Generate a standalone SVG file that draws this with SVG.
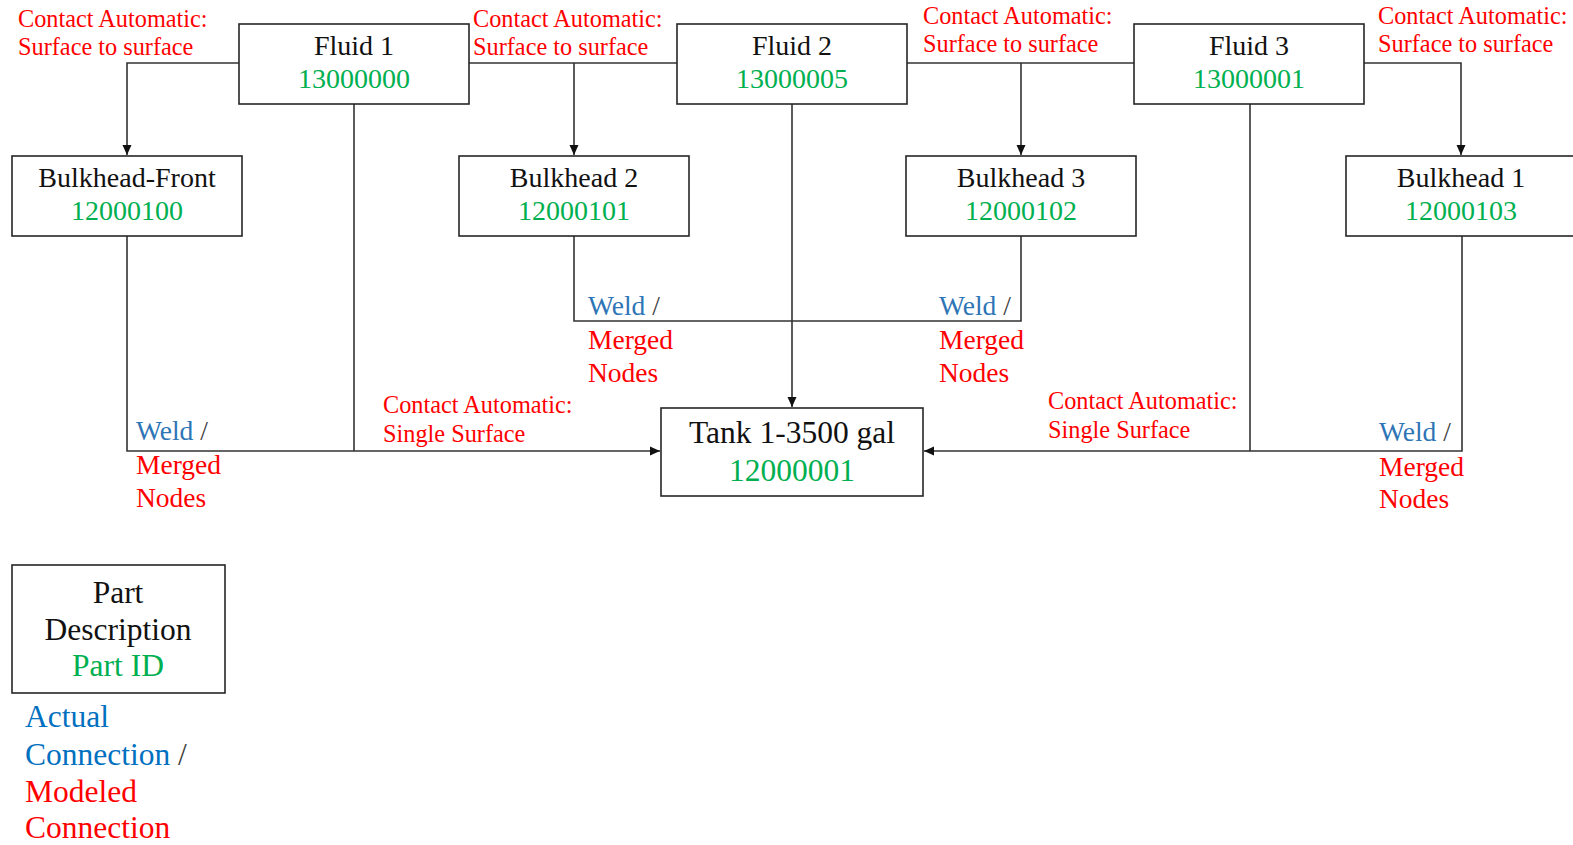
<svg xmlns="http://www.w3.org/2000/svg" width="1573" height="845" viewBox="0 0 1573 845">
<style>
  .box { fill: #fff; stroke: #262626; stroke-width: 1.6; }
  .ln { fill: none; stroke: #333; stroke-width: 1.6; }
  .t { font-family: "Liberation Serif", "Times New Roman", serif; }
  .nm { font-size: 28px; fill: #111; text-anchor: middle; }
  .id { font-size: 28px; fill: #00B050; text-anchor: middle; }
  .lab { font-size: 24.3px; fill: #FF0000; }
  .wl { font-size: 27.5px; }
  .blue { fill: #2E75B6; }
  .red { fill: #FF0000; }
  .sl { fill: #404040; }
</style>
<defs>
  <marker id="arr" markerWidth="12" markerHeight="12" refX="10" refY="5.5" orient="auto" markerUnits="userSpaceOnUse">
    <path d="M0,1 L10,5.5 L0,10 Z" fill="#111"/>
  </marker>
</defs>
<g id="connectors">
  <path class="ln" d="M239,63 H127 V155" marker-end="url(#arr)"/>
  <path class="ln" d="M469,63 H677"/>
  <path class="ln" d="M574,63 V155" marker-end="url(#arr)"/>
  <path class="ln" d="M907,63 H1134"/>
  <path class="ln" d="M1021,63 V155" marker-end="url(#arr)"/>
  <path class="ln" d="M1364,63 H1461 V155" marker-end="url(#arr)"/>
  <path class="ln" d="M127,236 V451 H660" marker-end="url(#arr)"/>
  <path class="ln" d="M354,104 V451"/>
  <path class="ln" d="M574,236 V321 H1021 V236"/>
  <path class="ln" d="M792,104 V407" marker-end="url(#arr)"/>
  <path class="ln" d="M1462,236 V451 H924" marker-end="url(#arr)"/>
  <path class="ln" d="M1250,104 V451"/>
</g>
<g id="labels" class="t">
  <text class="lab" x="18" y="27">Contact Automatic:</text>
  <text class="lab" x="18" y="55">Surface to surface</text>
  <text class="lab" x="473" y="27">Contact Automatic:</text>
  <text class="lab" x="473" y="55">Surface to surface</text>
  <text class="lab" x="923" y="24">Contact Automatic:</text>
  <text class="lab" x="923" y="52">Surface to surface</text>
  <text class="lab" x="1378" y="24">Contact Automatic:</text>
  <text class="lab" x="1378" y="52">Surface to surface</text>
  <text class="lab" x="383" y="413">Contact Automatic:</text>
  <text class="lab" x="383" y="442">Single Surface</text>
  <text class="lab" x="1048" y="409">Contact Automatic:</text>
  <text class="lab" x="1048" y="438">Single Surface</text>
  <text class="wl" x="136" y="440"><tspan class="blue">Weld</tspan><tspan class="sl"> /</tspan></text>
  <text class="wl red" x="136" y="474">Merged</text>
  <text class="wl red" x="136" y="507">Nodes</text>
  <text class="wl" x="588" y="315"><tspan class="blue">Weld</tspan><tspan class="sl"> /</tspan></text>
  <text class="wl red" x="588" y="349">Merged</text>
  <text class="wl red" x="588" y="382">Nodes</text>
  <text class="wl" x="939" y="315"><tspan class="blue">Weld</tspan><tspan class="sl"> /</tspan></text>
  <text class="wl red" x="939" y="349">Merged</text>
  <text class="wl red" x="939" y="382">Nodes</text>
  <text class="wl" x="1379" y="441"><tspan class="blue">Weld</tspan><tspan class="sl"> /</tspan></text>
  <text class="wl red" x="1379" y="476">Merged</text>
  <text class="wl red" x="1379" y="508">Nodes</text>
</g>
<g id="fluid1" class="t">
  <rect class="box" x="239" y="24" width="230" height="80"/>
  <text class="nm" x="354" y="55">Fluid 1</text>
  <text class="id" x="354" y="88">13000000</text>
</g>
<g id="fluid2" class="t">
  <rect class="box" x="677" y="24" width="230" height="80"/>
  <text class="nm" x="792" y="55">Fluid 2</text>
  <text class="id" x="792" y="88">13000005</text>
</g>
<g id="fluid3" class="t">
  <rect class="box" x="1134" y="24" width="230" height="80"/>
  <text class="nm" x="1249" y="55">Fluid 3</text>
  <text class="id" x="1249" y="88">13000001</text>
</g>
<g id="bulkhead-front" class="t">
  <rect class="box" x="12" y="156" width="230" height="80"/>
  <text class="nm" x="127" y="187">Bulkhead-Front</text>
  <text class="id" x="127" y="220">12000100</text>
</g>
<g id="bulkhead2" class="t">
  <rect class="box" x="459" y="156" width="230" height="80"/>
  <text class="nm" x="574" y="187">Bulkhead 2</text>
  <text class="id" x="574" y="220">12000101</text>
</g>
<g id="bulkhead3" class="t">
  <rect class="box" x="906" y="156" width="230" height="80"/>
  <text class="nm" x="1021" y="187">Bulkhead 3</text>
  <text class="id" x="1021" y="220">12000102</text>
</g>
<g id="bulkhead1" class="t">
  <rect class="box" x="1346" y="156" width="232" height="80"/>
  <text class="nm" x="1461" y="187">Bulkhead 1</text>
  <text class="id" x="1461" y="220">12000103</text>
</g>
<g id="tank" class="t">
  <rect class="box" x="661" y="408" width="262" height="88"/>
  <text class="nm" x="792" y="443" style="font-size:31.5px">Tank 1-3500 gal</text>
  <text class="id" x="792" y="481" style="font-size:31.5px">12000001</text>
</g>
<g id="legend" class="t">
  <rect class="box" x="12" y="565" width="213" height="128"/>
  <text class="nm" x="118" y="603" style="font-size:31.5px">Part</text>
  <text class="nm" x="118" y="640" style="font-size:31.5px">Description</text>
  <text class="id" x="118" y="676" style="font-size:31.5px">Part ID</text>
  <text x="25" y="727" style="font-size:31.5px;fill:#0070C0">Actual</text>
  <text x="25" y="765" style="font-size:31.5px"><tspan fill="#0070C0">Connection</tspan><tspan fill="#404040"> /</tspan></text>
  <text x="25" y="802" style="font-size:31.5px;fill:#FF0000">Modeled</text>
  <text x="25" y="838" style="font-size:31.5px;fill:#FF0000">Connection</text>
</g>
</svg>
